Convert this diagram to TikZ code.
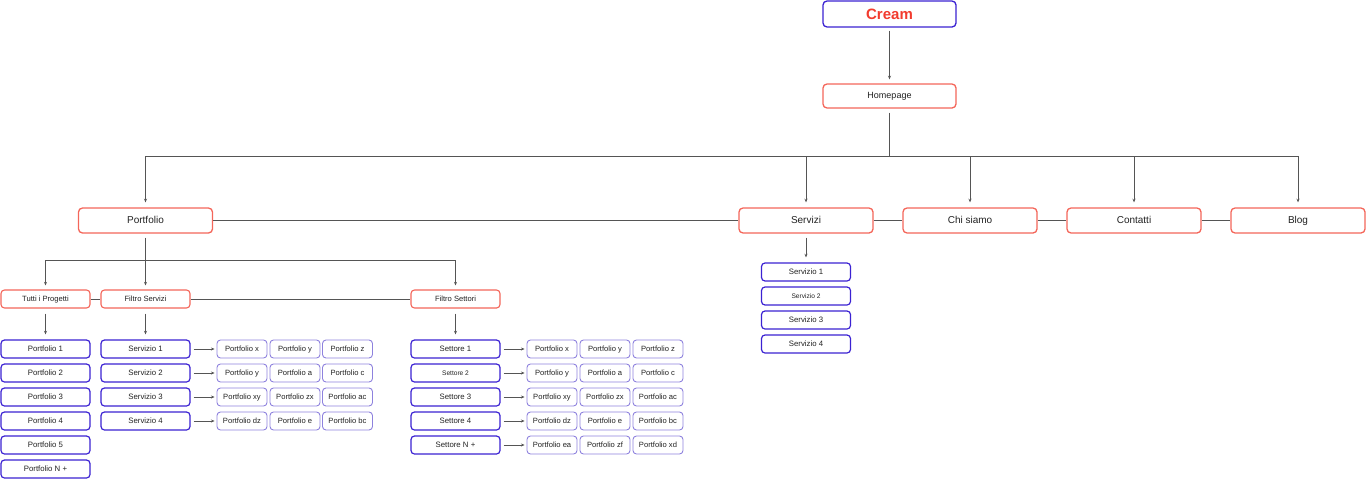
\documentclass[tikz,border=0pt]{standalone}
\usepackage{fontspec}
\setmainfont{Liberation Sans}
\usetikzlibrary{arrows.meta}
\definecolor{boxred}{HTML}{F4665A}
\definecolor{creamred}{HTML}{F23B2E}
\definecolor{boxblue}{HTML}{3B22D2}
\definecolor{gridblue}{HTML}{8E82DE}
\definecolor{linegray}{HTML}{555555}
\definecolor{txt}{HTML}{222222}
\tikzset{
  base/.style={rectangle, inner sep=0pt, fill=white, text=txt, align=center, text height=5.7pt, text depth=0.5pt},
  redbox/.style={base, draw=boxred, line width=1.3pt, rounded corners=4pt},
  bluebox/.style={base, draw=boxblue, line width=1.2pt, rounded corners=3.5pt, minimum width=89pt, minimum height=18pt, font=\fontsize{7.8}{9}\selectfont},
  gridbox/.style={base, draw=gridblue, line width=0.9pt, rounded corners=3.5pt, minimum width=50pt, minimum height=18pt, font=\fontsize{7.6}{9}\selectfont},
  toprow/.style={redbox, minimum width=134pt, minimum height=25pt, text height=7.2pt, text depth=0.8pt, font=\fontsize{10}{12}\selectfont},
  filt/.style={redbox, line width=1.1pt, rounded corners=3.5pt, minimum width=89pt, minimum height=18pt, font=\fontsize{7.6}{9}\selectfont},
  conn/.style={draw=linegray, line width=0.6pt},
  arr/.style={conn, -{Stealth[length=3.6pt,width=3pt]}},
}
\begin{document}
\begin{tikzpicture}[x=1pt,y=-1pt]
\useasboundingbox (0,0) rectangle (1366,480);
% top
\node[base, draw=boxblue, line width=1.3pt, rounded corners=4pt, minimum width=133pt, minimum height=26pt, text=creamred, text height=10.8pt, text depth=0pt, font=\fontsize{15}{18}\selectfont\bfseries] (cream) at (889.5,14) {Cream};
\node[redbox, minimum width=133pt, minimum height=24pt, text height=6.6pt, text depth=0.7pt, font=\fontsize{9}{11}\selectfont] (home) at (889.5,96) {Homepage};
\draw[arr, shorten <=3pt, shorten >=4pt] (cream) -- (home);
% main row
\node[toprow] (port) at (145.5,220.5) {Portfolio};
\node[toprow] (serv) at (806,220.5) {Servizi};
\node[toprow] (chi) at (970,220.5) {Chi siamo};
\node[toprow] (cont) at (1134,220.5) {Contatti};
\node[toprow] (blog) at (1298,220.5) {Blog};
\coordinate (hbus) at (889.5,156);
\draw[conn, shorten <=4pt] (home) -- (hbus);
\draw[conn] (port.north |- hbus) -- (blog.north |- hbus);
\foreach \n in {port,serv,chi,cont,blog}{
  \draw[arr, shorten >=5pt] (\n.north |- hbus) -- (\n.north);
}
\draw[conn] (port) -- (serv);
\draw[conn] (serv) -- (chi);
\draw[conn] (chi) -- (cont);
\draw[conn] (cont) -- (blog);
% filters
\node[filt] (tutti) at (45.5,299) {Tutti i Progetti};
\node[filt] (fserv) at (145.5,299) {Filtro Servizi};
\node[filt] (fsett) at (455.5,299) {Filtro Settori};
\coordinate (pbus) at (145.5,260);
\draw[conn, shorten <=4pt] (port) -- (pbus);
\draw[conn] (tutti.north |- pbus) -- (fsett.north |- pbus);
\foreach \n in {tutti,fserv,fsett}{
  \draw[arr, shorten >=4pt] (\n.north |- pbus) -- (\n.north);
}
\draw[conn] (tutti) -- (fserv);
\draw[conn] (fserv) -- (fsett);
% Portfolio list
\foreach \t [count=\i] in {Portfolio 1,Portfolio 2,Portfolio 3,Portfolio 4,Portfolio 5,Portfolio N +}{
  \node[bluebox] (pl\i) at (45.5,{349+24*(\i-1)}) {\t};
}
\draw[arr, shorten <=5pt, shorten >=5pt] (tutti) -- (pl1);
% Servizio list
\foreach \t [count=\i] in {Servizio 1,Servizio 2,Servizio 3,Servizio 4}{
  \node[bluebox] (sv\i) at (145.5,{349+24*(\i-1)}) {\t};
}
\draw[arr, shorten <=5pt, shorten >=5pt] (fserv) -- (sv1);
% Settore list
\node[bluebox] (st1) at (455.5,349) {Settore 1};
\node[bluebox, font=\fontsize{6.6}{8}\selectfont] (st2) at (455.5,373) {Settore 2};
\node[bluebox] (st3) at (455.5,397) {Settore 3};
\node[bluebox] (st4) at (455.5,421) {Settore 4};
\node[bluebox] (st5) at (455.5,445) {Settore N +};
\draw[arr, shorten <=5pt, shorten >=5pt] (fsett) -- (st1);
% grids for Servizi
\foreach \a/\b/\c [count=\i] in {x/y/z, y/a/c, xy/zx/ac, dz/e/bc}{
  \node[gridbox] (ga\i) at (242,{349+24*(\i-1)}) {Portfolio \a};
  \node[gridbox] (gb\i) at (295,{349+24*(\i-1)}) {Portfolio \b};
  \node[gridbox] (gc\i) at (347.5,{349+24*(\i-1)}) {Portfolio \c};
  \draw[arr, shorten <=3pt, shorten >=2pt] (sv\i) -- (ga\i);
}
% grids for Settori
\foreach \a/\b/\c [count=\i] in {x/y/z, y/a/c, xy/zx/ac, dz/e/bc, ea/zf/xd}{
  \node[gridbox] (ha\i) at (552,{349+24*(\i-1)}) {Portfolio \a};
  \node[gridbox] (hb\i) at (605,{349+24*(\i-1)}) {Portfolio \b};
  \node[gridbox] (hc\i) at (658,{349+24*(\i-1)}) {Portfolio \c};
  \draw[arr, shorten <=3pt, shorten >=2pt] (st\i) -- (ha\i);
}
% Servizi sub list
\node[bluebox] (ss1) at (806,272) {Servizio 1};
\node[bluebox, font=\fontsize{6.6}{8}\selectfont] (ss2) at (806,296) {Servizio 2};
\node[bluebox] (ss3) at (806,320) {Servizio 3};
\node[bluebox] (ss4) at (806,344) {Servizio 4};
\draw[arr, shorten <=4pt, shorten >=5pt] (serv) -- (ss1);
\end{tikzpicture}
\end{document}
